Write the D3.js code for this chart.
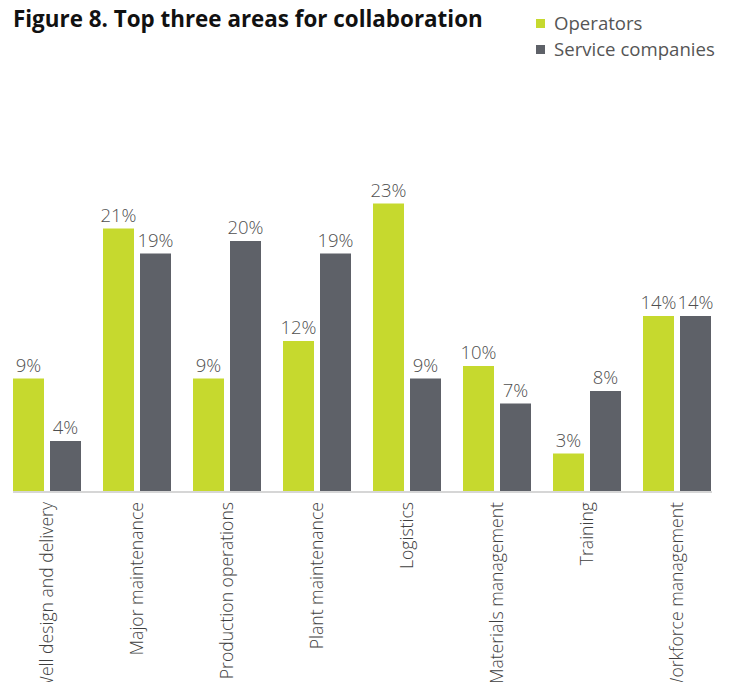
<!DOCTYPE html>
<html>
<head>
<meta charset="utf-8">
<script src="https://cdn.jsdelivr.net/npm/d3@7"></script>
<style>
  html, body { margin: 0; padding: 0; background: #fff; }
  svg { display: block; font-family: "Open Sans", "DejaVu Sans", sans-serif; }
</style>
</head>
<body>
<svg id="chart" width="729" height="682"></svg>
<script>
// Share of respondents naming each area among their top three for collaboration
const categories = [
  "Well design and delivery",
  "Major maintenance",
  "Production operations",
  "Plant maintenance",
  "Logistics",
  "Materials management",
  "Training",
  "Workforce management"
];
const seriesNames = ["Operators", "Service companies"];
const operators = [9, 21, 9, 12, 23, 10, 3, 14];
const serviceCompanies = [4, 19, 20, 19, 9, 7, 8, 14];
const seriesColors = ["#c6d92e", "#5e6168"];

const rows = categories.map((c, i) => ({
  category: c,
  values: [
    { key: seriesNames[0], value: operators[i] },
    { key: seriesNames[1], value: serviceCompanies[i] }
  ]
}));

const svg = d3.select("#chart");
const baseline = 491;

const x0 = d3.scaleBand()
  .domain(categories)
  .range([2, 722])
  .paddingInner(22 / 90)
  .paddingOuter(11 / 90);

const x1 = d3.scaleBand()
  .domain(seriesNames)
  .range([0, x0.bandwidth()])
  .paddingInner(6 / 37);

const y = d3.scaleLinear().domain([0, 25]).range([baseline, baseline - 312.5]);
const color = d3.scaleOrdinal().domain(seriesNames).range(seriesColors);

// Title
svg.append("text")
  .attr("x", 13)
  .attr("y", 26.5)
  .attr("font-size", 22.4)
  .attr("font-weight", 700)
  .attr("fill", "#111")
  .text("Figure 8. Top three areas for collaboration");

// Legend
const legend = svg.append("g").attr("class", "legend");
seriesNames.forEach((name, i) => {
  const g = legend.append("g").attr("transform", `translate(536, ${19 + i * 26})`);
  g.append("rect").attr("width", 9).attr("height", 9).attr("fill", color(name));
  g.append("text")
    .attr("x", 18)
    .attr("y", 11)
    .attr("font-size", 18.6)
    .attr("fill", "#555")
    .text(name);
});

// Bars and value labels
const groups = svg.append("g").selectAll("g")
  .data(rows)
  .join("g")
  .attr("transform", d => `translate(${x0(d.category)},0)`);

groups.selectAll("rect")
  .data(d => d.values)
  .join("rect")
  .attr("x", d => x1(d.key))
  .attr("y", d => y(d.value))
  .attr("width", x1.bandwidth())
  .attr("height", d => y(0) - y(d.value))
  .attr("fill", d => color(d.key));

groups.selectAll("text.value")
  .data(d => d.values)
  .join("text")
  .attr("class", "value")
  .attr("x", d => x1(d.key) + x1.bandwidth() / 2)
  .attr("y", d => y(d.value) - 7)
  .attr("text-anchor", "middle")
  .attr("font-size", 18.5)
  .attr("font-weight", 300)
  .attr("fill", "#4f4f4f")
  .text(d => d.value + "%");

// Baseline axis
const xAxis = d3.axisBottom(x0).tickSize(0).tickPadding(0).tickFormat(() => "");
const axisG = svg.append("g").attr("transform", `translate(0, ${baseline + 1})`).call(xAxis);
axisG.select(".domain")
  .attr("d", `M${x0.range()[0] + 11},0H${x0.range()[1] - 10}`)
  .attr("stroke", "#d6d6d6")
  .attr("stroke-width", 2);

// Rotated category labels
svg.append("g").selectAll("text")
  .data(categories)
  .join("text")
  .attr("transform", d => `translate(${x0(d) + x0.bandwidth() / 2}, 502) rotate(-90)`)
  .attr("text-anchor", "end")
  .attr("dy", "0.35em")
  .attr("font-size", 17.6)
  .attr("font-weight", 300)
  .attr("fill", "#3f3f3f")
  .text(d => d);
</script>
</body>
</html>
